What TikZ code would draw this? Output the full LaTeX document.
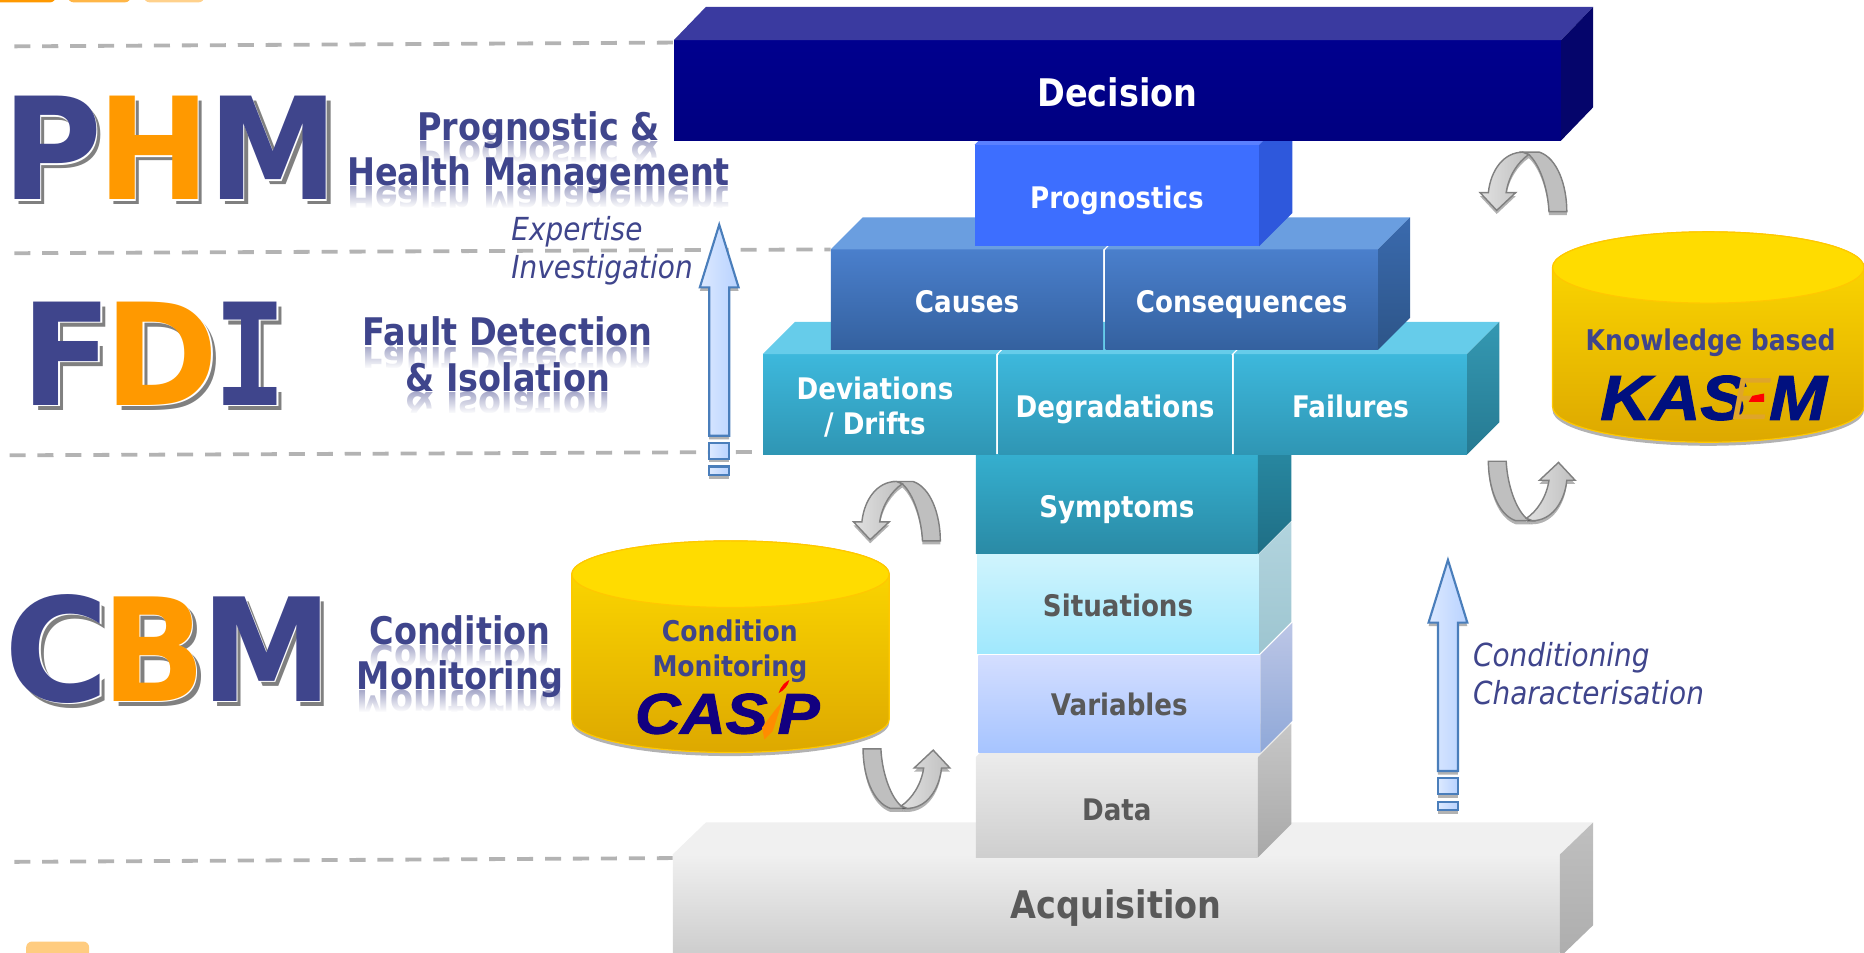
\documentclass[tikz,border=0pt]{standalone}
\usepackage{fontspec}
\usepackage{graphicx}
\usepackage{xcolor}
\usepackage{tikz}
\usetikzlibrary{positioning,shadows,fadings}
\setmainfont{DejaVu Sans}[FakeStretch=0.88]
\newfontfamily\slabfont{DejaVu Sans Mono}
\newfontfamily\logofont{Liberation Sans}[BoldItalicFeatures={FakeBold=2,FakeStretch=1.1}]

\definecolor{labelblue}{HTML}{3F458C}
\definecolor{letterorange}{HTML}{FF9900}
\definecolor{dashgrey}{HTML}{B3B3B3}
\definecolor{logoblue}{HTML}{120080}
\definecolor{kasemblue}{HTML}{00107F}
\definecolor{kasemorange}{HTML}{DFA52A}
\definecolor{arrowline}{HTML}{4A7EBB}
\definecolor{arrowleft}{HTML}{DCE9FF}
\definecolor{arrowright}{HTML}{B8D2FF}
\definecolor{tanktop}{HTML}{FFDC00}
\definecolor{tankbottom}{HTML}{DDA800}
\definecolor{tankline}{HTML}{FFC800}
\definecolor{varfronta}{HTML}{D4DEFF}
\definecolor{varfrontb}{HTML}{A6C4FF}
\definecolor{varsidea}{HTML}{BCC6E6}
\definecolor{varsideb}{HTML}{8FA8D8}
\definecolor{sitfronta}{HTML}{D0F4FD}
\definecolor{sitfrontb}{HTML}{A0E8FD}
\definecolor{sitsidea}{HTML}{B2D4DE}
\definecolor{sitsideb}{HTML}{9DC5D0}
\definecolor{tealfronta}{HTML}{3DB8DC}
\definecolor{tealfrontb}{HTML}{2F96B4}
\definecolor{tealtop}{HTML}{66CCEA}
\definecolor{tealsidea}{HTML}{3498B2}
\definecolor{tealsideb}{HTML}{267A92}
\definecolor{symfronta}{HTML}{35AFCF}
\definecolor{symfrontb}{HTML}{2A8AA5}
\definecolor{symsidea}{HTML}{2A8FA9}
\definecolor{symsideb}{HTML}{1F6E85}
\definecolor{midfronta}{HTML}{4A7FCC}
\definecolor{midfrontb}{HTML}{34619F}
\definecolor{midtop}{HTML}{6A9EE0}
\definecolor{midsidea}{HTML}{3A6AAE}
\definecolor{midsideb}{HTML}{2D5588}
\definecolor{progfront}{HTML}{3D6EFF}
\definecolor{progtop}{HTML}{5A80FF}
\definecolor{progside}{HTML}{2E58DC}
\definecolor{decifronta}{HTML}{00008E}
\definecolor{decifrontb}{HTML}{000080}
\definecolor{decitop}{HTML}{3A3AA0}
\definecolor{deciside}{HTML}{05056B}

\tikzfading[name=mirrorfade,top color=transparent!100,bottom color=transparent!0]

\tikzset{
  blockface/.style={inner sep=0pt,align=center,text=white,font=\bfseries\fontsize{25}{30}\selectfont},
  oneline/.style={text height=22pt,text depth=0pt},
  darklabel/.style={text=black!65},
  phasedash/.style={dashgrey,line width=3.2pt,dash pattern=on 13.5pt off 10pt},
  sidelabel/.style={inner sep=0pt,text=labelblue,font=\bfseries\fontsize{32}{38}\selectfont},
  mirrorlabel/.style={sidelabel,text=labelblue!45},
  slantlabel/.style={inner sep=0pt,text=labelblue,anchor=base west,font=\itshape\fontsize{26.7}{32}\selectfont},
  tanklabel/.style={inner sep=0pt,align=center,text=labelblue,font=\bfseries\fontsize{24}{29}\selectfont},
  logolabel/.style={inner sep=0pt,text=logoblue,anchor=base west,font=\logofont\bfseries\itshape\fontsize{48}{50}\selectfont},
  kasemlabel/.style={logolabel,text=kasemblue,font=\logofont\bfseries\itshape\fontsize{53}{55}\selectfont},
  softshadow/.style={drop shadow={shadow xshift=0pt,shadow yshift=-3pt,opacity=.3,fill=black}},
  tankbody/.style={top color=tanktop,bottom color=tankbottom,draw=tankline,line width=1pt},
  tabstyle/.style={rounded corners=5pt},
  risebody/.style={softshadow,left color=arrowleft,right color=arrowright,draw=arrowline,line width=1.8pt},
  pics/risearrow/.style={code={
    \path[risebody] (0,0)--(16.3,52.7)--(8.4,52.7)--(8.4,177.5)--(-8.4,177.5)--(-8.4,52.7)--(-16.3,52.7)--cycle;
    \path[risebody] (-8.4,183.7) rectangle (8.4,197);
    \path[risebody] (-8.4,203.4) rectangle (8.4,210.6);
  }},
  pics/cyclearrow/.style={code={
    \path[softshadow,fill=black!25,draw=black!50,line width=1.2pt]
      (36,0)--(50,0) .. controls (65,5) and (73,28) .. (73,50)--(58,50) .. controls (57,30) and (50,10) .. (41,2)--cycle;
    \path[softshadow,left color=black!12,right color=black!25,draw=black!50,line width=1.2pt]
      (7,34) .. controls (9,15) and (20,0) .. (36,0)--(41,2) .. controls (32,8) and (24,20) .. (22,34)--(30,34)--(14,49)--(0,34)--cycle;
  }}
}

\newcommand{\blocktop}[4]{\fill[#4] (#1.north west)--([shift={(#2,-#3)}]#1.north west)--([shift={(#2,-#3)}]#1.north east)--(#1.north east)--cycle;}
\newcommand{\blockside}[5]{\shade[top color=#4,bottom color=#5] (#1.north east)--([shift={(#2,-#3)}]#1.north east)--([shift={(#2,-#3)}]#1.south east)--(#1.south east)--cycle;}
\newcommand{\bigletter}[7]{
  \node[inner sep=0pt,anchor=base west,text=black!50] at (#2+4,#3+4) {\resizebox{#4pt}{#5pt}{#7}};
  \node[inner sep=0pt,anchor=base west,text=white] at (#2+1.3,#3+1.3) {\resizebox{#4pt}{#5pt}{#7}};
  \node[inner sep=0pt,anchor=base west,text=#6] (#1) at (#2,#3) {\resizebox{#4pt}{#5pt}{#7}};
}
\newcommand{\mirrorline}[3]{
  \node[mirrorlabel,anchor=base] at (#1,#2+1) {\scalebox{1}[-1]{#3}};
  \fill[white,path fading=mirrorfade] (#1-190,#2+1) rectangle (#1+190,#2+19);
  \fill[white] (#1-190,#2+18.8) rectangle (#1+190,#2+36);
}

\begin{document}
\begin{tikzpicture}[x=1pt,y=-1pt]
\useasboundingbox (0,0) rectangle (1568,801);

\fill[letterorange,tabstyle] (-10,-10) rectangle (47,2);
\fill[letterorange!72,tabstyle] (57,-10) rectangle (110,2);
\fill[letterorange!45,tabstyle] (121,-10) rectangle (172,2);
\fill[letterorange!50,tabstyle] (22,792) rectangle (75,815);

\mirrorline{453}{118}{Prognostic \&}
\mirrorline{453}{156}{Health Management}
\mirrorline{427}{291}{Fault Detection}
\mirrorline{427}{329}{\& Isolation}
\mirrorline{387}{542}{Condition}
\mirrorline{387}{580}{Monitoring}

\node[blockface,darklabel,text height=21pt,text depth=0pt,minimum width=746pt,minimum height=86pt,top color=black!6,bottom color=black!20,font=\bfseries\fontsize{32}{38}\selectfont] (acquisition) at (939,762) {Acquisition};
\blocktop{acquisition}{28}{27}{black!6}
\blockside{acquisition}{28}{27}{black!25}{black!32}

\node[blockface,oneline,darklabel,minimum width=237pt,minimum height=84pt,top color=black!8,bottom color=black!19] (data) at (939.5,679) {Data};
\blocktop{data}{28}{28}{black!8}
\blockside{data}{28}{28}{black!22}{black!34}

\node[blockface,oneline,darklabel,text height=20pt,minimum width=237pt,minimum height=82pt,top color=varfronta,bottom color=varfrontb] (variables) at (941.5,592) {Variables};
\blockside{variables}{27}{27}{varsidea}{varsideb}

\node[blockface,oneline,darklabel,minimum width=237pt,minimum height=84pt,top color=sitfronta,bottom color=sitfrontb] (situations) at (940.5,508) {Situations};
\blockside{situations}{27}{27}{sitsidea}{sitsideb}

\node[blockface,oneline,minimum width=237pt,minimum height=84pt,top color=symfronta,bottom color=symfrontb] (symptoms) at (939.5,424) {Symptoms};
\blockside{symptoms}{28}{28}{symsidea}{symsideb}

\node[blockface,minimum width=196pt,minimum height=84pt,top color=tealfronta,bottom color=tealfrontb] (deviations) at (740,340) {\rule{0pt}{24pt}Deviations\hspace*{8pt}\\/ Drifts\hspace*{8pt}};
\node[blockface,oneline,minimum width=196pt,minimum height=84pt,top color=tealfronta,bottom color=tealfrontb] (degradations) at (938,340) {Degradations};
\node[blockface,oneline,minimum width=196pt,minimum height=84pt,top color=tealfronta,bottom color=tealfrontb] (failures) at (1136,340) {Failures};
\blocktop{deviations}{27}{27}{tealtop}
\blocktop{degradations}{27}{27}{tealtop}
\blocktop{failures}{27}{27}{tealtop}
\blockside{failures}{27}{27}{tealsidea}{tealsideb}

\node[blockface,oneline,minimum width=229pt,minimum height=84pt,top color=midfronta,bottom color=midfrontb] (causes) at (813.5,252) {Causes};
\node[blockface,oneline,minimum width=229pt,minimum height=84pt,top color=midfronta,bottom color=midfrontb] (consequences) at (1044.5,252) {Consequences};
\blocktop{causes}{27}{27}{midtop}
\blocktop{consequences}{27}{27}{midtop}
\blockside{consequences}{27}{27}{midsidea}{midsideb}

\node[blockface,oneline,minimum width=239pt,minimum height=85pt,fill=progfront] (prognostics) at (939.5,164.5) {Prognostics};
\blocktop{prognostics}{28}{28}{progtop}
\blockside{prognostics}{28}{28}{progside}{progside}

\node[blockface,text height=28pt,text depth=0pt,minimum width=746pt,minimum height=84pt,top color=decifronta,bottom color=decifrontb,font=\bfseries\fontsize{32}{38}\selectfont] (decision) at (940,76) {Decision};
\blocktop{decision}{27}{28}{decitop}
\blockside{decision}{27}{28}{deciside}{deciside}

\coordinate (phmdash) at (12,39);
\coordinate (fdidash) at (12,213);
\coordinate (cbmdash) at (8,383);
\coordinate (basedash) at (12,725);
\draw[phasedash] (phmdash)--([yshift=-2pt]decision.north west);
\draw[phasedash] (fdidash)--(causes.north west);
\draw[phasedash] (cbmdash)--([yshift=2pt]deviations.south west);
\draw[phasedash] (basedash)--([yshift=-3pt]acquisition.north west);

\bigletter{phmp}{1.5}{168}{84}{87}{labelblue}{\bfseries P}
\bigletter{phmh}{81.5}{168}{95}{87}{letterorange}{\bfseries H}
\bigletter{phmm}{175}{168}{109}{87}{labelblue}{\bfseries M}

\bigletter{fdif}{18}{341}{76}{87}{labelblue}{\bfseries F}
\bigletter{fdid}{88}{341}{96}{87}{letterorange}{\bfseries D}
\bigletter{fdii}{179.5}{341}{62}{87}{labelblue}{\slabfont\bfseries I}

\bigletter{cbmc}{4}{590}{88}{90}{labelblue}{\bfseries C}
\bigletter{cbmb}{85}{590}{88}{88}{letterorange}{\bfseries B}
\bigletter{cbmm}{169}{590}{110}{88}{labelblue}{\bfseries M}

\node[sidelabel,anchor=base] (prognosticline) at (453,118) {Prognostic \&};
\node[sidelabel,anchor=base] (healthline) at (453,156) {Health Management};
\node[sidelabel,anchor=base] (faultline) at (427,291) {Fault Detection};
\node[sidelabel,anchor=base] (isolationline) at (427,329) {\& Isolation};
\node[sidelabel,anchor=base] (conditionline) at (387,542) {Condition};
\node[sidelabel,anchor=base] (monitorline) at (387,580) {Monitoring};

\pic (expertarrow) at (605,189) {risearrow};
\pic (conditionarrow) at (1218,471) {risearrow};

\node[slantlabel] (expertise) at (430,202) {Expertise};
\node[slantlabel] (investigation) at (430,234) {Investigation};
\node[slantlabel] (conditioning) at (1239,561) {Conditioning};
\node[slantlabel] (characterisation) at (1239,593) {Characterisation};

\path[softshadow,tankbody] (481,483)--(481,605) arc [start angle=180,end angle=360,x radius=133.5pt,y radius=28pt]--(748,483) arc [start angle=0,end angle=180,x radius=133.5pt,y radius=28pt]--cycle;
\path[fill=tanktop,draw=tankline,line width=1pt] (614.5,483) ellipse [x radius=133.5pt,y radius=28pt];
\node[tanklabel] (casiptext) at (614,548) {Condition\\Monitoring};
\node[logolabel] (casipcas) at (534,617) {CAS};
\node[logolabel] (casipp) at (654,617) {P};
\fill[red] (655,583) .. controls (657,577) and (660,574) .. (664,572) .. controls (663,577) and (659,581) .. (655,583)--cycle;
\fill[orange!90!yellow] (653,596)--(658,590)--(650,615)--(643,622)--(641,612)--cycle;

\path[softshadow,tankbody] (1306,225)--(1306,342) arc [start angle=180,end angle=360,x radius=131pt,y radius=30pt]--(1568,225) arc [start angle=0,end angle=180,x radius=131pt,y radius=30pt]--cycle;
\path[fill=tanktop,draw=tankline,line width=1pt] (1437,225) ellipse [x radius=131pt,y radius=30pt];
\node[tanklabel] (kasemtext) at (1439,288) {Knowledge based};
\node[kasemlabel] (kasemkas) at (1346,353) {KAS};
\node[kasemlabel,text=kasemorange,font=\logofont\itshape\fontsize{50}{50}\selectfont] (kaseme) at (1456,353) {E};
\node[kasemlabel] (kasemm) at (1488,353) {M};
\fill[red] (1471,338)--(1474,333)--(1484,331)--(1484,338)--cycle;

\pic (phmloop) at (1245,128) {cyclearrow};
\pic[rotate=180] (kasemloop) at (1325,438) {cyclearrow};
\pic (casiploop) at (718,405) {cyclearrow};
\pic[rotate=180] (dataloop) at (799,680) {cyclearrow};
\end{tikzpicture}
\end{document}
